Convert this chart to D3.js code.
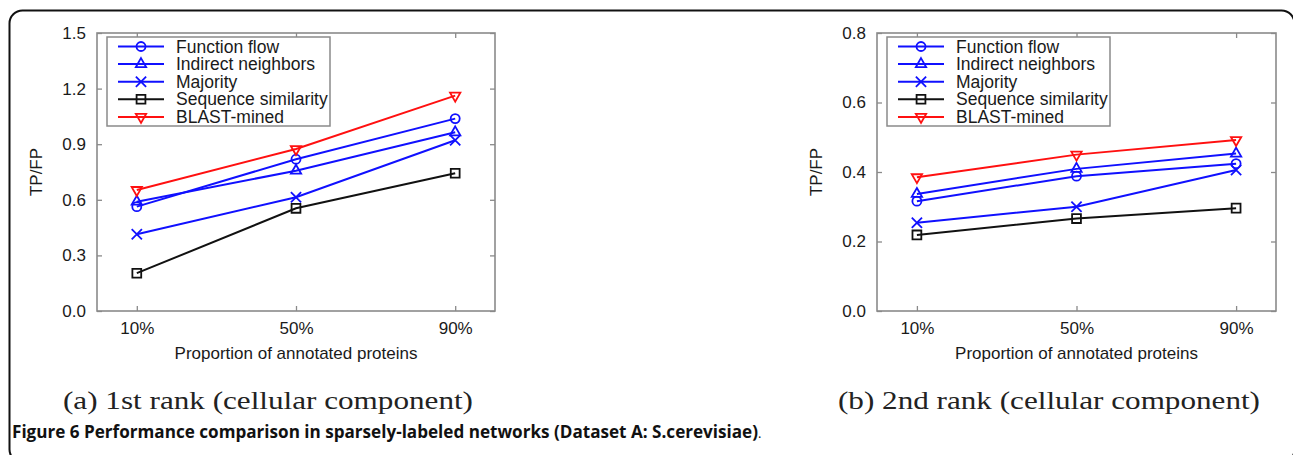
<!DOCTYPE html>
<html>
<head>
<meta charset="utf-8">
<script src="https://cdn.jsdelivr.net/npm/d3@7"></script>
<style>
  body { margin: 0; background: #fff; }
  svg { display: block; }
</style>
</head>
<body>
<div id="container"></div>
<script>
const width = 1293;
const height = 455;

const proportions = [10, 50, 90];
const proportionLabels = ["10%", "50%", "90%"];
const methods = ["Function flow", "Indirect neighbors", "Majority", "Sequence similarity", "BLAST-mined"];
const methodColors = ["#1010ff", "#1010ff", "#1010ff", "#111111", "#ff1010"];
const methodSymbols = ["circle", "triangle", "cross", "square", "triangleDown"];

// (a) 1st rank
const rank1FunctionFlow = [0.563, 0.819, 1.038];
const rank1Indirect = [0.59, 0.757, 0.964];
const rank1Majority = [0.414, 0.614, 0.921];
const rank1Sequence = [0.204, 0.554, 0.743];
const rank1Blast = [0.653, 0.874, 1.162];
const rank1Ticks = [0, 0.3, 0.6, 0.9, 1.2, 1.5];

// (b) 2nd rank
const rank2FunctionFlow = [0.316, 0.388, 0.424];
const rank2Indirect = [0.337, 0.409, 0.453];
const rank2Majority = [0.254, 0.300, 0.406];
const rank2Sequence = [0.219, 0.266, 0.296];
const rank2Blast = [0.385, 0.450, 0.492];
const rank2Ticks = [0, 0.2, 0.4, 0.6, 0.8];

const panels = [
  { x0: 97, x1: 495, max: 1.5, ticks: rank1Ticks,
    series: [rank1FunctionFlow, rank1Indirect, rank1Majority, rank1Sequence, rank1Blast],
    caption: "(a) 1st rank (cellular component)", capX: 63, capW: 410 },
  { x0: 877, x1: 1276, max: 0.8, ticks: rank2Ticks,
    series: [rank2FunctionFlow, rank2Indirect, rank2Majority, rank2Sequence, rank2Blast],
    caption: "(b) 2nd rank (cellular component)", capX: 838, capW: 422 }
];

const plotTop = 33, plotBottom = 311;
const font = "'Liberation Sans', Arial, sans-serif";
const frameColor = "#8a8a8a";

const svg = d3.select("#container")
  .append("svg")
  .attr("width", width)
  .attr("height", height)
  .attr("viewBox", `0 0 ${width} ${height}`);

// outer rounded border
svg.append("rect")
  .attr("x", 9.5).attr("y", 10.5)
  .attr("width", 1285).attr("height", 452)
  .attr("rx", 13)
  .attr("fill", "none")
  .attr("stroke", "#111")
  .attr("stroke-width", 2);

function symbolPath(name) {
  const types = {
    circle: [d3.symbolCircle, 64, 0],
    triangle: [d3.symbolTriangle, 46, 0],
    cross: [d3.symbolTimes, 70, 0],
    square: [d3.symbolSquare, 78, 0],
    triangleDown: [d3.symbolTriangle, 46, 180]
  };
  const [t, s, rot] = types[name];
  return { d: d3.symbol(t, s)(), rot };
}

function drawMarker(g, name, cx, cy, color) {
  const sp = symbolPath(name);
  g.append("path")
    .attr("d", sp.d)
    .attr("transform", `translate(${cx},${cy}) rotate(${sp.rot})`)
    .attr("fill", "none")
    .attr("stroke", color)
    .attr("stroke-width", 1.8);
}

panels.forEach((p) => {
  const x = d3.scaleLinear().domain([0, 100]).range([p.x0, p.x1]);
  const y = d3.scaleLinear().domain([0, p.max]).range([plotBottom, plotTop]);
  const g = svg.append("g");

  // frame
  g.append("rect")
    .attr("x", p.x0).attr("y", plotTop)
    .attr("width", p.x1 - p.x0).attr("height", plotBottom - plotTop)
    .attr("fill", "none")
    .attr("stroke", frameColor)
    .attr("stroke-width", 1.6);

  const styleAxis = (a, labels) => {
    a.select(".domain").remove();
    a.selectAll(".tick line").attr("stroke", frameColor).attr("stroke-width", 1.3);
    a.selectAll(".tick text")
      .attr("fill", "#1a1a1a")
      .style("font-family", font)
      .style("font-size", "17px");
    if (!labels) a.selectAll(".tick text").remove();
  };

  g.append("g")
    .attr("transform", `translate(${p.x0},0)`)
    .call(d3.axisLeft(y).tickValues(p.ticks).tickSize(-5).tickPadding(11).tickFormat(d3.format(".1f")))
    .call((a) => styleAxis(a, true));

  g.append("g")
    .attr("transform", `translate(${p.x1},0)`)
    .call(d3.axisRight(y).tickValues(p.ticks).tickSize(-5))
    .call((a) => styleAxis(a, false));

  g.append("g")
    .attr("transform", `translate(0,${plotBottom})`)
    .call(d3.axisBottom(x).tickValues(proportions).tickSize(-5).tickPadding(11)
      .tickFormat((d, i) => proportionLabels[i]))
    .call((a) => styleAxis(a, true));

  g.append("g")
    .attr("transform", `translate(0,${plotTop})`)
    .call(d3.axisTop(x).tickValues(proportions).tickSize(-5))
    .call((a) => styleAxis(a, false));

  // lines + markers
  const line = d3.line().x((d, i) => x(proportions[i])).y((d) => y(d));
  p.series.forEach((vals, k) => {
    g.append("path")
      .attr("d", line(vals))
      .attr("fill", "none")
      .attr("stroke", methodColors[k])
      .attr("stroke-width", 2);
    vals.forEach((v, i) => drawMarker(g, methodSymbols[k], x(proportions[i]), y(v), methodColors[k]));
  });

  // legend
  const lx = p.x0 + 10, ly = 37;
  g.append("rect")
    .attr("x", lx).attr("y", ly)
    .attr("width", 223).attr("height", 89)
    .attr("fill", "#fff")
    .attr("stroke", frameColor)
    .attr("stroke-width", 1.5);
  methods.forEach((m, k) => {
    const ry = ly + 9.5 + k * 17.6;
    g.append("line")
      .attr("x1", lx + 11).attr("x2", lx + 57)
      .attr("y1", ry).attr("y2", ry)
      .attr("stroke", methodColors[k])
      .attr("stroke-width", 2);
    drawMarker(g, methodSymbols[k], lx + 34, ry, methodColors[k]);
    g.append("text")
      .attr("x", lx + 69).attr("y", ry + 6)
      .attr("fill", "#1a1a1a")
      .style("font-family", font)
      .style("font-size", "17.5px")
      .text(m);
  });

  // axis titles
  g.append("text")
    .attr("x", (p.x0 + p.x1) / 2).attr("y", 359)
    .attr("text-anchor", "middle")
    .attr("fill", "#1a1a1a")
    .style("font-family", font)
    .style("font-size", "17px")
    .text("Proportion of annotated proteins");

  g.append("text")
    .attr("transform", `translate(${p.x0 - 55},${(plotTop + plotBottom) / 2}) rotate(-90)`)
    .attr("text-anchor", "middle")
    .attr("fill", "#1a1a1a")
    .style("font-family", font)
    .style("font-size", "17px")
    .text("TP/FP");

  // sub caption
  g.append("text")
    .attr("x", p.capX).attr("y", 409)
    .attr("textLength", p.capW)
    .attr("lengthAdjust", "spacingAndGlyphs")
    .attr("fill", "#222")
    .style("font-family", "'Liberation Serif', 'DejaVu Serif', serif")
    .style("font-size", "25px")
    .text(p.caption);
});

// figure caption
const cap = svg.append("text")
  .attr("x", 12).attr("y", 438)
  .attr("fill", "#111")
  .style("font-family", "'Open Sans', sans-serif")
  .style("font-size", "17px");
cap.append("tspan").attr("font-weight", "bold")
  .attr("textLength", 746)
  .attr("lengthAdjust", "spacingAndGlyphs")
  .text("Figure 6 Performance comparison in sparsely-labeled networks (Dataset A: S.cerevisiae)");
cap.append("tspan").attr("font-size", "13px").text(".");
</script>
</body>
</html>
